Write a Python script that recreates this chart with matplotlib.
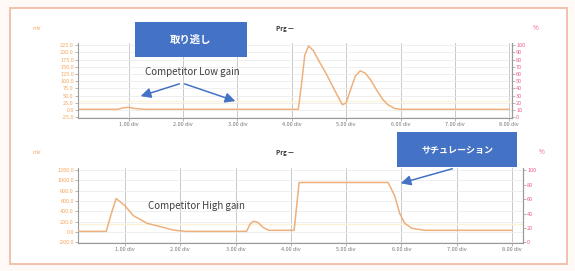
import matplotlib.pyplot as plt
from matplotlib.patches import Rectangle, FancyArrowPatch

plt.rcParams['font.family'] = ['Noto Sans CJK JP', 'DejaVu Sans']

# eixo x comum (divisões)
div_ticks = [1, 2, 3, 4, 5, 6, 7, 8]
div_labels = ['1.00 div', '2.00 div', '3.00 div', '4.00 div',
              '5.00 div', '6.00 div', '7.00 div', '8.00 div']

# gráfico de cima (Low gain)
low_x = [0.1, 0.8, 0.9, 1.0, 1.1, 1.3, 4.0, 4.12, 4.18, 4.24, 4.31, 4.4, 4.5,
         4.65, 4.8, 4.93, 5.0, 5.08, 5.17, 5.26, 5.35, 5.45, 5.57, 5.67,
         5.76, 5.89, 6.0, 8.0]
low_y = [3, 3, 8, 10, 6, 3, 3, 3, 90, 190, 222, 205, 170, 120, 65, 19, 25,
         70, 118, 136, 128, 105, 67, 38, 20, 6, 3, 3]
low_left_ticks = [-25, 0, 25, 50, 75, 100, 125, 150, 175, 200, 225]
low_right_ticks = [0, 10, 20, 30, 40, 50, 60, 70, 80, 90, 100]

# gráfico de baixo (High gain)
high_x = [0.15, 0.66, 0.75, 0.84, 1.0, 1.15, 1.4, 1.63, 1.87, 2.1, 3.2,
          3.26, 3.32, 3.4, 3.5, 3.6, 4.06, 4.15, 5.76, 5.88, 5.97, 6.06,
          6.19, 6.42, 8.0]
high_y = [15, 15, 350, 650, 510, 320, 170, 110, 40, 15, 15, 150, 210, 190,
          90, 35, 35, 960, 960, 700, 360, 170, 75, 35, 35]
high_left_ticks = [-200, 0, 200, 400, 600, 800, 1000, 1200]
high_right_ticks = [0, 20, 40, 60, 80, 100]

W, H = 575, 271
fig = plt.figure(figsize=(W / 100, H / 100), dpi=100)
fig.patch.set_facecolor('#fffaf5')

# moldura
fig.patches.append(Rectangle((10 / W, 1 - 264 / H), 557 / W, 256 / H,
                             transform=fig.transFigure, facecolor='white',
                             edgecolor='#f2c0ae', linewidth=1.4, zorder=-10))

orange = '#f5a860'
pink = '#f0608a'
line_c = '#eeb07c'
blue = '#4472c4'


def px_axes(left, top, right, bottom):
    return fig.add_axes([left / W, 1 - bottom / H, (right - left) / W, (bottom - top) / H])


def painel(ax, xs, ys, xlim, lticks, rticks, ylim, faint):
    ax.set_xlim(*xlim)
    ax.set_ylim(*ylim)
    ax.set_facecolor('none')
    ax.axhline(faint, color='#fcf3d6', lw=1.0, zorder=1)
    ax.plot(xs, ys, color=line_c, lw=1.1, zorder=3)
    ax.set_xticks(div_ticks)
    ax.set_xticklabels(div_labels, fontsize=4)
    ax.set_yticks(lticks)
    ax.set_yticklabels(['%.1f' % v for v in lticks], fontsize=4)
    ax.grid(axis='x', color='#c8c8c8', lw=0.7)
    ax.grid(axis='y', color='#ececec', lw=0.6)
    ax.set_axisbelow(True)
    ax.spines['top'].set_visible(False)
    for s in ['left', 'bottom', 'right']:
        ax.spines[s].set_color('#999999')
        ax.spines[s].set_linewidth(0.8)
    ax.tick_params(length=2, width=0.5, pad=1, colors='#999999')
    for t in ax.get_yticklabels():
        t.set_color(orange)
    for t in ax.get_xticklabels():
        t.set_color('#777777')
    r = ax.twinx()
    lo, hi = ylim
    top_l, bot_l = lticks[-1], lticks[0]
    # mapeia 0..100 % nos limites dos ticks da esquerda
    scale = 100 / (top_l - bot_l)
    r.set_ylim((lo - bot_l) * scale, (hi - bot_l) * scale)
    r.set_yticks(rticks)
    r.set_yticklabels(['%d' % v for v in rticks], fontsize=4)
    r.tick_params(length=2, width=0.5, pad=1, colors='#999999')
    for t in r.get_yticklabels():
        t.set_color(pink)
    for s in ['top', 'left', 'bottom']:
        r.spines[s].set_visible(False)
    r.spines['right'].set_color('#999999')
    return r


ax1 = px_axes(78, 43, 512, 118)
painel(ax1, low_x, low_y, (0.07, 8.05), low_left_ticks, low_right_ticks, (-27, 232), 30)
ax2 = px_axes(78, 168, 523, 243)
painel(ax2, high_x, high_y, (0.15, 8.2), high_left_ticks, high_right_ticks, (-210, 1240), 150)

# textos de unidade e título
for yy in (28, 152):
    fig.text(37 / W, 1 - yy / H, 'mV', fontsize=4, color=orange, ha='center', va='center')
    fig.text(285 / W, 1 - yy / H, 'Prg —', fontsize=4.5, weight='bold', color='#333333',
             ha='center', va='center')
fig.text(536 / W, 1 - 28 / H, '%', fontsize=4.5, color=pink, ha='center', va='center')
fig.text(542 / W, 1 - 152 / H, '%', fontsize=4.5, color=pink, ha='center', va='center')

# caixas azuis
fig.patches.append(Rectangle((135 / W, 1 - 57 / H), 112 / W, 35 / H,
                             transform=fig.transFigure, facecolor=blue, edgecolor='none',
                             zorder=5))
fig.text(191 / W, 1 - 40 / H, '取り逃し', fontsize=7.5, weight='bold', color='white',
         ha='center', va='center', zorder=6)
fig.patches.append(Rectangle((397 / W, 1 - 167 / H), 120 / W, 35 / H,
                             transform=fig.transFigure, facecolor=blue, edgecolor='none',
                             zorder=5))
fig.text(457 / W, 1 - 150 / H, 'サチュレーション', fontsize=6.5, weight='bold', color='white',
         ha='center', va='center', zorder=6)

fig.text(192 / W, 1 - 72 / H, 'Competitor Low gain', fontsize=7, color='#404040',
         ha='center', va='center')
fig.text(196 / W, 1 - 206 / H, 'Competitor High gain', fontsize=7, color='#404040',
         ha='center', va='center')


def seta(x0, y0, x1, y1):
    fig.patches.append(FancyArrowPatch((x0 / W, 1 - y0 / H), (x1 / W, 1 - y1 / H),
                                       transform=fig.transFigure, arrowstyle='-|>',
                                       mutation_scale=15, color=blue, lw=1.1, zorder=5))


seta(182, 83, 138, 97)
seta(182, 83, 238, 102)
seta(455, 168, 398, 184)

fig.savefig('out.png', dpi=100)
